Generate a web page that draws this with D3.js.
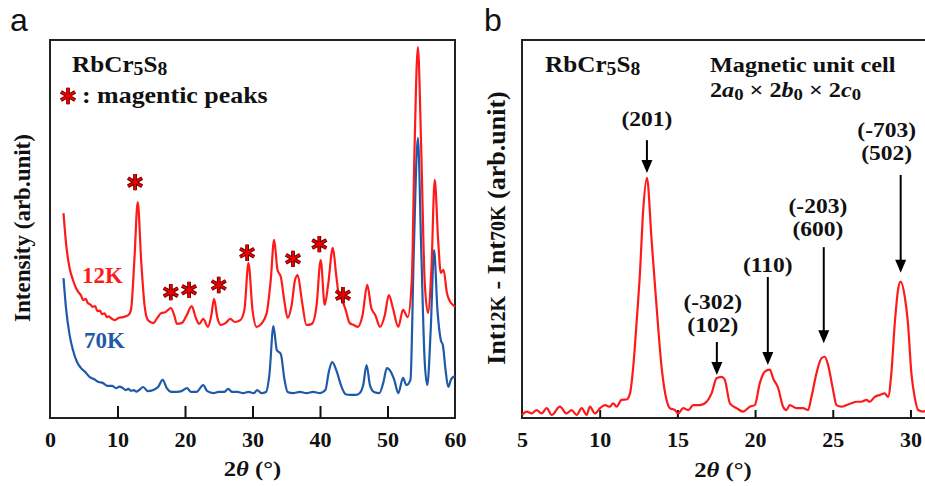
<!DOCTYPE html>
<html>
<head>
<meta charset="utf-8">
<script src="https://cdn.jsdelivr.net/npm/d3@7"></script>
<style>
  body { margin: 0; background: #fff; }
  svg { display: block; }
</style>
</head>
<body>
<svg id="fig" width="925" height="486"></svg>
<script>
// ---------- Panel a: powder diffraction patterns of RbCr5S8 ----------
const twoTheta12K = [2.0, 2.4, 2.9, 3.4, 3.8, 4.2, 4.6, 4.9, 5.3, 5.6, 6.0, 6.3, 6.7, 7.0, 7.4, 7.7, 8.1, 8.4, 8.7, 9.0, 9.3, 9.6, 10.2, 10.8, 11.6,
  12.0, 12.5, 13.0, 13.5, 14.0, 14.5, 15.3, 15.9, 16.5, 17.1, 17.5, 17.9, 18.4, 18.8, 19.5, 20.2,
  21.0, 21.6, 22.1, 22.7, 23.4, 23.9, 24.3, 24.8, 25.3, 26.0, 26.7, 27.4, 28.2, 28.8, 29.4, 30.0,
  30.6, 31.3, 32.1, 32.7, 33.2, 33.7, 34.2, 34.7, 35.2, 35.8, 36.3, 36.7, 37.3, 38.0, 38.8, 39.5,
  40.1, 40.7, 41.2, 41.9, 42.4, 42.8, 43.3, 43.8, 44.4, 45.0, 45.6, 46.3, 47.0, 47.6, 48.2, 48.9,
  49.6, 50.2, 50.8, 51.6, 52.3, 53.0, 53.6, 54.0, 54.5, 55.0, 55.5, 56.0, 56.5, 57.0, 57.5, 57.9,
  58.3, 58.8, 59.3, 59.7, 60.0];
const int12K = [54.2, 45.8, 39.7, 36.5, 34.6, 33.3, 32.4, 31.2, 31.5, 30.4, 30.0, 29.4, 29.6, 28.3, 28.4, 27.5, 27.7, 26.7, 26.9, 26.5, 26.1, 25.9, 26.5, 26.7, 27.2,
  28.6, 41.8, 57.1, 41.8, 29.9, 25.9, 25.1, 26.5, 27.8, 28.0, 28.6, 29.1, 27.2, 24.9, 25.1, 27.0,
  29.6, 26.5, 24.9, 26.2, 24.1, 27.2, 31.5, 26.5, 24.6, 25.1, 26.2, 25.4, 25.9, 28.6, 41.0, 28.6,
  24.1, 24.9, 27.8, 36.5, 47.1, 39.2, 37.3, 31.2, 26.5, 29.9, 36.5, 37.8, 31.2, 24.6, 24.9, 29.9,
  41.8, 29.9, 35.2, 45.0, 37.8, 32.5, 31.0, 28.6, 25.1, 24.6, 24.1, 27.2, 35.2, 29.1, 27.2, 24.1,
  27.2, 32.5, 29.1, 24.1, 28.6, 26.7, 36.5, 70.9, 98.1, 70.9, 36.5, 27.8, 39.2, 63.0, 47.1, 38.4,
  39.2, 33.1, 30.7, 29.9, 29.4];

const twoTheta70K = [2.0, 2.4, 2.9, 3.4, 4.0, 4.6, 5.2, 5.9, 6.5, 7.2, 7.8, 8.5, 9.2, 9.8, 10.3, 10.8, 11.2, 11.6,
  12.0, 12.4, 12.8, 13.2, 13.8, 14.5, 15.3, 16.0, 16.7, 17.3, 18.0, 18.8, 19.5, 20.3, 20.9, 21.7, 22.7, 23.3,
  24.2, 25.0, 25.8, 26.4, 27.0, 27.8, 28.6, 29.4, 30.2, 30.7, 31.3, 32.0, 32.5, 33.1, 33.6, 34.2,
  34.7, 35.2, 36.0, 37.0, 38.0, 39.0, 40.0, 40.8, 41.3, 41.8, 42.5, 43.1, 43.8, 44.5, 45.3, 45.9,
  46.4, 46.9, 47.4, 48.0, 48.8, 49.4, 49.9, 50.5, 51.0, 51.6, 52.3, 52.8, 53.4, 53.9, 54.5, 55.0,
  55.5, 55.9, 56.4, 56.9, 57.4, 57.9, 58.2, 58.6, 59.0, 59.4, 59.7, 60.0];
const int70K = [37.0, 28.6, 22.0, 18.0, 14.8, 13.2, 12.2, 10.8, 10.3, 9.5, 9.3, 8.5, 8.5, 7.9, 8.3, 7.9, 7.4, 7.7,
  7.2, 7.4, 7.0, 7.4, 8.2, 7.1, 7.4, 8.2, 10.1, 7.9, 6.9, 6.9, 7.1, 7.9, 6.9, 6.9, 8.7, 7.1,
  6.6, 6.9, 6.9, 7.7, 6.9, 6.9, 6.6, 6.9, 6.6, 7.4, 6.6, 6.9, 11.4, 24.3, 18.0, 16.9,
  10.6, 6.9, 6.6, 6.9, 6.6, 6.9, 6.6, 7.4, 12.2, 14.8, 12.2, 8.7, 6.3, 6.1, 6.1, 6.6,
  8.7, 14.0, 8.7, 6.9, 6.6, 9.5, 13.2, 12.2, 10.1, 6.6, 10.6, 8.7, 10.1, 44.4, 74.1, 44.4,
  15.3, 8.7, 23.3, 44.4, 28.6, 20.6, 19.3, 12.7, 8.2, 10.1, 10.8, 11.1];

// magnetic reflections flagged with an asterisk (2θ, height of the marker)
const starTwoTheta = [12.6, 17.9, 20.6, 25.0, 29.2, 36.0, 39.9, 43.4];
const starInt = [62.4, 33.3, 33.9, 35.2, 43.7, 42.1, 46.0, 32.5];

const ticksA = [0, 10, 20, 30, 40, 50, 60];

// ---------- Panel b: difference pattern Int(12K) - Int(70K) ----------
const twoThetaDiff = [5.0, 5.3, 5.62, 5.94, 6.26, 6.59, 6.91, 7.44, 7.87, 8.19, 8.52, 8.84, 9.16, 9.37, 9.69,
  10.02, 10.34, 10.66, 10.87, 11.09, 11.41, 11.73, 11.95, 12.16, 12.37, 12.59, 12.8, 13.04, 13.34, 13.66,
  13.98, 14.3, 14.51, 14.84, 15.05, 15.37, 15.7, 16.02, 16.45, 16.88, 17.2, 17.52, 17.84, 18.05, 18.38,
  18.81, 19.23, 19.66, 19.98, 20.31, 20.63, 20.95, 21.16, 21.48, 21.8, 22.02, 22.23, 22.66, 23.09, 23.41,
  23.63, 23.95, 24.27, 24.49, 24.7, 25.02, 25.24, 25.56, 25.88, 26.2, 26.52, 26.85, 27.17, 27.38, 27.7,
  28.02, 28.34, 28.56, 28.77, 28.99, 29.2, 29.37, 29.63, 29.84, 30.06, 30.27, 30.49, 30.81, 31.0];
const intDiff = [0.8, 1.7, 1.2, 2.1, 1.2, 2.6, 0.8, 3.0, 1.2, 2.1, 0.8, 2.6, 0.8, 3.0, 1.2,
  2.6, 3.4, 3.0, 3.9, 3.0, 4.8, 4.9, 6.5, 13.6, 25.0, 38.3, 55.0, 63.5, 47.1, 29.5,
  13.6, 4.8, 2.6, 2.1, 1.2, 2.6, 2.1, 3.4, 3.4, 4.3, 6.5, 10.5, 10.9, 10.1, 3.9,
  2.6, 1.7, 3.0, 3.4, 9.3, 12.3, 12.8, 10.5, 8.0, 3.0, 2.1, 3.4, 2.6, 2.6, 2.1,
  5.6, 11.8, 15.8, 16.2, 14.0, 7.4, 3.4, 3.0, 3.4, 3.9, 4.3, 4.3, 4.8, 4.3, 5.6,
  6.1, 6.5, 5.6, 11.8, 25.0, 33.9, 36.1, 32.2, 25.0, 11.8, 5.6, 2.1, 1.7, 2.0];

const ticksB = [10, 15, 20, 25, 30];

// indexed magnetic reflections of the 2a0 x 2b0 x 2c0 cell
const peakIndices = [["(201)"], ["(-302)", "(102)"], ["(110)"], ["(-203)", "(600)"], ["(-703)", "(502)"]];
const peakTwoTheta = [13.04, 17.54, 20.82, 24.42, 29.37];

// ---------- drawing ----------
const svg = d3.select("#fig");
const SERIF = "'Liberation Serif', 'Times New Roman', serif";
const SANS = "'Liberation Sans', Arial, sans-serif";
const RED = "#ff1a1a";
const BLUE = "#1f5aa8";
const INK = "#111";

const plotTop = 40, plotBottom = 418;
const plotA = { left: 50, right: 455 };
const plotB = { left: 522, right: 926 };

const xA = d3.scaleLinear().domain([0, 60]).range([plotA.left, plotA.right]);
const yA = d3.scaleLinear().domain([0, 100]).range([plotBottom, plotTop]);
const xB = d3.scaleLinear().domain([5, 31]).range([plotB.left, plotB.right]);
const yB = d3.scaleLinear().domain([0, 100]).range([plotBottom, plotTop]);

// text helper: bold serif, slightly widened glyphs
function label(parent, x, y, opts = {}) {
  const sx = opts.sx || 1;
  return parent.append("text")
    .attr("transform", `translate(${x},${y}) scale(${sx},1)`)
    .attr("font-family", opts.family || SERIF)
    .attr("font-weight", opts.weight || "bold")
    .attr("font-size", opts.size || 20)
    .attr("fill", opts.fill || INK)
    .attr("text-anchor", opts.anchor || "start");
}
function formula(parent, x, y, size, sx) {
  // RbCr5S8 with lowered, reduced numerals
  const t = label(parent, x, y, { size, sx });
  t.append("tspan").text("RbCr");
  t.append("tspan").attr("font-size", size * 0.78).attr("dy", size * 0.12).text("5");
  t.append("tspan").attr("dy", -size * 0.12).text("S");
  t.append("tspan").attr("font-size", size * 0.78).attr("dy", size * 0.12).text("8");
  return t;
}
// six-armed asterisk: dark outline under a red core
function starPath(g, cx, cy) {
  const sym = d3.symbol(d3.symbolAsterisk, 190)();
  g.append("path").attr("d", sym).attr("transform", `translate(${cx},${cy})`)
    .attr("stroke", "#6a0000").attr("stroke-width", 3.8).attr("fill", "none");
  g.append("path").attr("d", sym).attr("transform", `translate(${cx},${cy})`)
    .attr("stroke", "#f20000").attr("stroke-width", 1.8).attr("fill", "none");
}
function styleAxis(g, size, sx) {
  g.select(".domain").remove();
  g.selectAll(".tick line").attr("stroke", INK).attr("stroke-width", 2);
  g.selectAll(".tick text")
    .attr("font-family", SERIF).attr("font-weight", "bold")
    .attr("font-size", size).attr("fill", INK)
    .attr("transform", `scale(${sx},1)`);
}

// ---- panel a ----
const gA = svg.append("g");
gA.append("rect").attr("x", plotA.left).attr("y", plotTop)
  .attr("width", plotA.right - plotA.left).attr("height", plotBottom - plotTop)
  .attr("fill", "none").attr("stroke", "#222").attr("stroke-width", 2);

const axA = gA.append("g").attr("transform", `translate(0,${plotBottom})`)
  .call(d3.axisBottom(xA).tickValues(ticksA).tickSizeInner(-12).tickSizeOuter(0).tickPadding(15));
styleAxis(axA, 20, 1.1);
axA.selectAll(".tick line").filter(d => d === 0 || d === 60).remove();

const line12 = d3.line().x((d, i) => xA(twoTheta12K[i])).y(d => yA(d)).curve(d3.curveMonotoneX);
const line70 = d3.line().x((d, i) => xA(twoTheta70K[i])).y(d => yA(d)).curve(d3.curveMonotoneX);
gA.append("path").attr("d", line70(int70K)).attr("fill", "none").attr("stroke", BLUE).attr("stroke-width", 2.2);
gA.append("path").attr("d", line12(int12K)).attr("fill", "none").attr("stroke", RED).attr("stroke-width", 2.2);

starTwoTheta.forEach((t, i) => starPath(gA, xA(t), yA(starInt[i])));

formula(gA, 72, 72, 24, 1.05);
starPath(gA, 68, 96);
label(gA, 82, 103, { size: 24, sx: 1.08 }).text(": magentic peaks");
label(gA, 82, 283, { size: 23, fill: RED }).text("12K");
label(gA, 84, 348, { size: 23, fill: BLUE }).text("70K");

label(gA, 0, 0, { size: 23, anchor: "middle" }).attr("transform", "translate(30,228) rotate(-90)")
  .text("Intensity (arb.unit)");

const titleA = label(gA, (plotA.left + plotA.right) / 2, 476, { size: 22, sx: 1.12, anchor: "middle" });
titleA.append("tspan").text("2");
titleA.append("tspan").attr("font-style", "italic").text("θ");
titleA.append("tspan").text(" (°)");

label(svg, 10, 31, { family: SANS, weight: "normal", size: 32 }).text("a");

// ---- panel b ----
const gB = svg.append("g");
gB.append("path")
  .attr("d", `M${plotB.right + 4},${plotTop}H${plotB.left}V${plotBottom}H${plotB.right + 4}`)
  .attr("fill", "none").attr("stroke", "#222").attr("stroke-width", 2);

const axB = gB.append("g").attr("transform", `translate(0,${plotBottom})`)
  .call(d3.axisBottom(xB).tickValues([5].concat(ticksB)).tickSizeInner(-8).tickSizeOuter(0).tickPadding(15));
styleAxis(axB, 20, 1.1);
axB.selectAll(".tick line").filter(d => d === 5).remove();

const lineD = d3.line().x((d, i) => xB(twoThetaDiff[i])).y(d => yB(d)).curve(d3.curveMonotoneX);
gB.append("path").attr("d", lineD(intDiff)).attr("fill", "none").attr("stroke", RED).attr("stroke-width", 2.2);

// arrows: tail and tip heights, label line centres (value units of the y scale)
const arrowTail = [73.5, 20.1, 37.3, 45.2, 64.3];
const arrowTip = [64.8, 11.4, 14.0, 19.8, 38.4];
const labelShift = [0, -0.26, 0, -0.38, -0.9];
const labelTop = [79, 30.7, 40.5, 56.1, 76.2];
peakTwoTheta.forEach((t, i) => {
  const x = xB(t);
  const y0 = yB(arrowTail[i]), y1 = yB(arrowTip[i]);
  gB.append("line").attr("x1", x).attr("x2", x).attr("y1", y0).attr("y2", y1 - 11)
    .attr("stroke", "#000").attr("stroke-width", 2);
  gB.append("path").attr("d", `M${x - 5.5},${y1 - 13}L${x + 5.5},${y1 - 13}L${x},${y1}Z`).attr("fill", "#000");
  peakIndices[i].forEach((s, j) => {
    label(gB, xB(t + labelShift[i]), yB(labelTop[i]) + j * 23 + 7, { size: 21, sx: 1.12, anchor: "middle" }).text(s);
  });
});

formula(gB, 545, 72, 24, 1.05);
label(gB, 710, 72, { size: 22, sx: 1.1 }).text("Magnetic unit cell");
const cell = label(gB, 710, 97, { size: 22, sx: 1.1 });
let lowered = false;
[["2", 0], ["a", 1], ["0", 2], [" × 2", 0], ["b", 1], ["0", 2], [" × 2", 0], ["c", 1], ["0", 2]]
  .forEach(([s, kind]) => {
    const ts = cell.append("tspan").text(s);
    if (kind === 1) ts.attr("font-style", "italic");
    if (kind === 2) { ts.attr("font-size", 17).attr("dy", 3); lowered = true; }
    else if (lowered) { ts.attr("dy", -3); lowered = false; }
  });

const ylabB = label(gB, 0, 0, { size: 26, anchor: "middle" }).attr("transform", "translate(505,228) rotate(-90)");
ylabB.append("tspan").text("Int");
ylabB.append("tspan").attr("font-size", 20).text("12K");
ylabB.append("tspan").text(" - Int");
ylabB.append("tspan").attr("font-size", 20).text("70K");
ylabB.append("tspan").text(" (arb.unit)");

const titleB = label(gB, 723, 477, { size: 22, sx: 1.12, anchor: "middle" });
titleB.append("tspan").text("2");
titleB.append("tspan").attr("font-style", "italic").text("θ");
titleB.append("tspan").text(" (°)");

label(svg, 484, 31, { family: SANS, weight: "normal", size: 32 }).text("b");
</script>
</body>
</html>
